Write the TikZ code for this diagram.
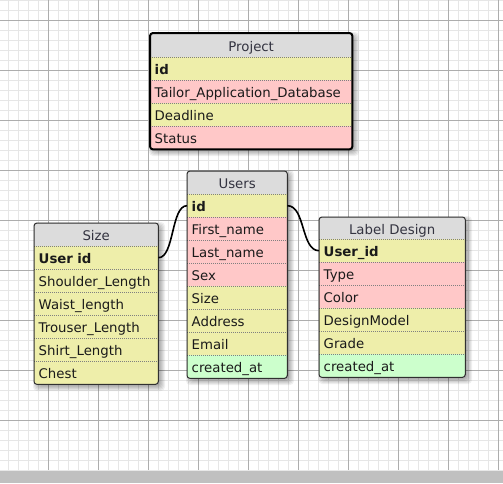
\documentclass[tikz,border=0pt]{standalone}
\usepackage{fontspec}
\setmainfont{DejaVu Sans}
\definecolor{gridminor}{HTML}{E6E6E6}
\definecolor{gridmajor}{HTML}{ADADAD}
\definecolor{barc}{HTML}{C0C0C0}
\definecolor{barlight}{HTML}{E8E8E8}
\definecolor{hdrgray}{HTML}{DCDCDC}
\definecolor{rowyel}{HTML}{EEEEAA}
\definecolor{rowpink}{HTML}{FFC8C8}
\definecolor{rowgreen}{HTML}{CCFFCC}
\definecolor{txt}{HTML}{1A1A1A}
\definecolor{hdrtxt}{HTML}{333340}
\definecolor{sepgray}{HTML}{808080}
\definecolor{framec}{HTML}{303030}
\newcommand{\tblshadow}[4]{%
  \foreach \i in {-3,...,4}{%
    \fill[black, opacity=0.06, rounded corners=4pt] ({#1+3-\i},{#2+3-\i}) rectangle ({#3+3+\i},{#4+3+\i});}}
\tikzset{
  minorln/.style={draw=gridminor, line width=1pt},
  majorln/.style={draw=gridmajor, line width=1pt},
  cell/.style={anchor=north west, inner xsep=4.5pt, inner ysep=0pt, minimum height=23pt,
    text height=12.5pt, text depth=0.5pt, align=left, font=\fontsize{13.3}{15}\selectfont, text=txt},
  hdr/.style={cell, fill=hdrgray, align=center, text=hdrtxt},
  yel/.style={cell, fill=rowyel},
  pnk/.style={cell, fill=rowpink},
  grn/.style={cell, fill=rowgreen},
  pw/.style={text width=193pt},
  uw/.style={text width=91pt},
  sw/.style={text width=115pt},
  lw/.style={text width=137pt},
  sepline/.style={draw=sepgray, line width=0.8pt, dash pattern=on 1pt off 1pt},
  frame/.style={draw=framec, line width=1pt, rounded corners=3pt},
  thickframe/.style={draw=black, line width=2pt, rounded corners=3pt},
  link/.style={draw=black, line width=1.6pt},
}
\begin{document}
\begin{tikzpicture}[x=1pt,y=-1pt]
\useasboundingbox (0,0) rectangle (503,483);
\fill[white] (0,0) rectangle (503,483);
% grid
\foreach \x in {8.5,18.5,...,498.5} \draw[minorln] (\x,0) -- (\x,470);
\foreach \y in {0.5,10.5,...,470.5} \draw[minorln] (0,\y) -- (503,\y);
\foreach \x in {48.5,98.5,...,498.5} \draw[majorln] (\x,0) -- (\x,470);
\foreach \y in {20.5,70.5,...,420.5} \draw[majorln] (0,\y) -- (503,\y);
\fill[barlight] (0,469.5) rectangle (503,471);
\fill[barc] (0,471) rectangle (503,483);

% shadows
\tblshadow{150}{33}{352}{149}
\tblshadow{187}{171}{287}{378}
\tblshadow{34}{223}{158}{384}
\tblshadow{319}{217}{465}{377}

% Project
\begin{scope}
\clip[rounded corners=3pt] (150,33) rectangle (352,149);
\node[hdr, pw, minimum height=24pt] (p0) at (150,33) {Project};
\node[yel, pw] (p1) at (150,57) {\textbf{id}};
\node[pnk, pw] (p2) at (150,80) {Tailor\_Application\_Database};
\node[yel, pw] (p3) at (150,103) {Deadline};
\node[pnk, pw] (p4) at (150,126) {Status};
\foreach \r in {p1,p2,p3,p4} \draw[sepline] (\r.north west) -- (\r.north east);
\end{scope}
\draw[thickframe] (p0.north west) rectangle (p4.south east);

% Users
\begin{scope}
\clip[rounded corners=3pt] (187,171) rectangle (287,378);
\node[hdr, uw] (u0) at (187,171) {Users};
\node[yel, uw] (u1) at (187,194) {\textbf{id}};
\node[pnk, uw] (u2) at (187,217) {First\_name};
\node[pnk, uw] (u3) at (187,240) {Last\_name};
\node[pnk, uw] (u4) at (187,263) {Sex};
\node[yel, uw] (u5) at (187,286) {Size};
\node[yel, uw] (u6) at (187,309) {Address};
\node[yel, uw] (u7) at (187,332) {Email};
\node[grn, uw] (u8) at (187,355) {created\_at};
\foreach \r in {u1,u2,u3,u4,u5,u6,u7,u8} \draw[sepline] (\r.north west) -- (\r.north east);
\end{scope}
\draw[frame] (u0.north west) rectangle (u8.south east);

% Size
\begin{scope}
\clip[rounded corners=3pt] (34,223) rectangle (158,384);
\node[hdr, sw] (s0) at (34,223) {Size};
\node[yel, sw] (s1) at (34,246) {\textbf{User id}};
\node[yel, sw] (s2) at (34,269) {Shoulder\_Length};
\node[yel, sw] (s3) at (34,292) {Waist\_length};
\node[yel, sw] (s4) at (34,315) {Trouser\_Length};
\node[yel, sw] (s5) at (34,338) {Shirt\_Length};
\node[yel, sw] (s6) at (34,361) {Chest};
\foreach \r in {s1,s2,s3,s4,s5,s6} \draw[sepline] (\r.north west) -- (\r.north east);
\end{scope}
\draw[frame] (s0.north west) rectangle (s6.south east);

% Label Design
\begin{scope}
\clip[rounded corners=3pt] (319,217) rectangle (465,377);
\node[hdr, lw, minimum height=22pt] (l0) at (319,217) {Label Design};
\node[yel, lw] (l1) at (319,239) {\textbf{User\_id}};
\node[pnk, lw] (l2) at (319,262) {Type};
\node[pnk, lw] (l3) at (319,285) {Color};
\node[yel, lw] (l4) at (319,308) {DesignModel};
\node[yel, lw] (l5) at (319,331) {Grade};
\node[grn, lw] (l6) at (319,354) {created\_at};
\foreach \r in {l1,l2,l3,l4,l5,l6} \draw[sepline] (\r.north west) -- (\r.north east);
\end{scope}
\draw[frame] (l0.north west) rectangle (l6.south east);

% connectors
\draw[link] (s1.east) .. controls +(16,0) and +(-16,0) .. (u1.west);
\draw[link] (u1.east) .. controls +(18,0) and +(-18,0) .. (l1.west);
\end{tikzpicture}
\end{document}
